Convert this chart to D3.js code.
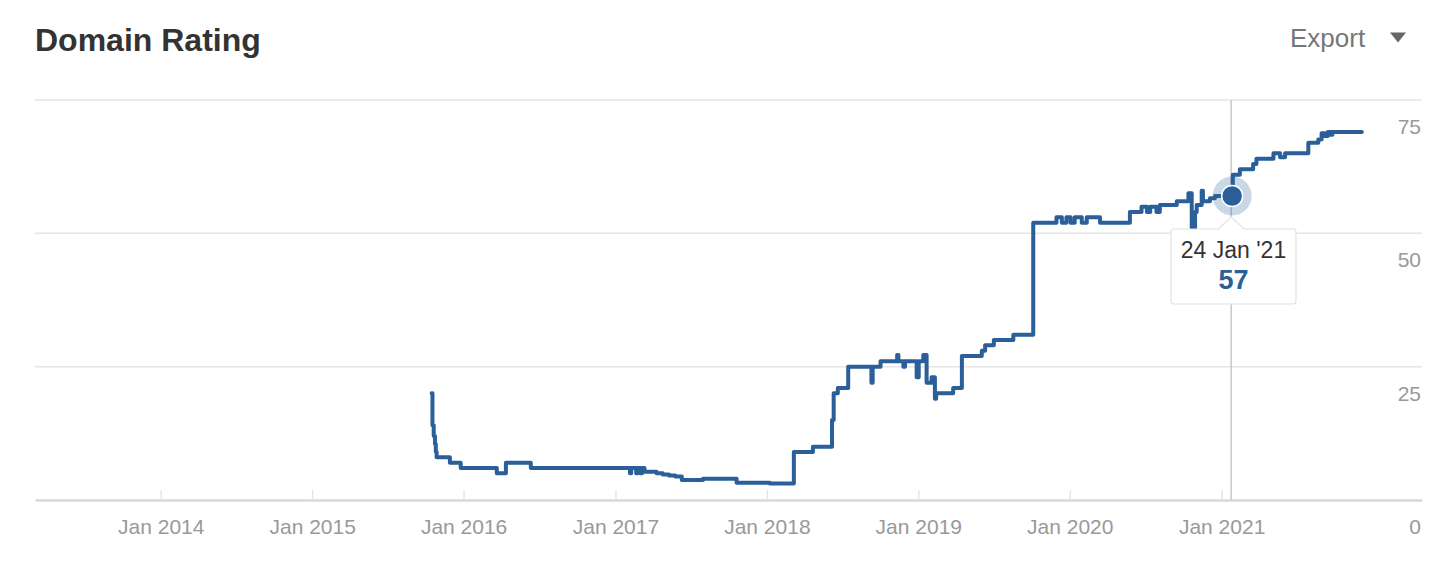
<!DOCTYPE html>
<html>
<head>
<meta charset="utf-8">
<script src="https://cdn.jsdelivr.net/npm/d3@7"></script>
<style>
  html, body { margin: 0; padding: 0; background: #fff; }
  svg { display: block; font-family: "Liberation Sans", Arial, Helvetica, sans-serif; }
</style>
</head>
<body>
<svg id="chart" width="1454" height="566"></svg>
<script>
// ---- data ----
const title = "Domain Rating";
const exportLabel = "Export";
const tickDates = ["2014-01-01","2015-01-01","2016-01-01","2017-01-01","2018-01-01","2019-01-01","2020-01-01","2021-01-01"];
const tickLabels = ["Jan 2014","Jan 2015","Jan 2016","Jan 2017","Jan 2018","Jan 2019","Jan 2020","Jan 2021"];
const yTicks = [0, 25, 50, 75];
const dates = [
  "2015-10-16","2015-10-18","2015-10-21","2015-10-24","2015-10-26","2015-10-28","2015-11-29","2015-12-25",
  "2016-03-21","2016-04-12","2016-06-11","2017-02-05","2017-02-08","2017-02-20","2017-02-24","2017-03-02",
  "2017-03-06","2017-03-12","2017-04-10","2017-04-25","2017-05-10","2017-05-25","2017-06-10","2017-07-31",
  "2017-10-20","2018-01-08","2018-03-07","2018-04-22","2018-06-07","2018-06-11","2018-06-21","2018-07-16",
  "2018-09-10","2018-09-13","2018-10-02","2018-11-11","2018-11-14","2018-11-26","2018-11-30","2018-12-28",
  "2019-01-02","2019-01-13","2019-01-21","2019-02-02","2019-02-10","2019-02-13","2019-03-26","2019-04-16",
  "2019-06-03","2019-06-11","2019-07-02","2019-08-18","2019-10-05","2019-11-30","2019-12-13","2019-12-24",
  "2020-01-03","2020-01-13","2020-01-30","2020-02-11","2020-03-14","2020-05-25","2020-06-22","2020-07-05",
  "2020-07-13","2020-07-28","2020-08-05","2020-09-15","2020-10-13","2020-10-21","2020-10-29","2020-11-02",
  "2020-11-14","2020-11-17","2020-12-04","2020-12-16","2021-01-28","2021-02-14","2021-03-18","2021-03-26",
  "2021-05-06","2021-05-22","2021-06-03","2021-07-29","2021-08-22","2021-08-30","2021-09-07","2021-09-14",
  "2021-09-22","2021-09-25","2021-12-05"
];
const values = [
  20,14,12,10.5,9,8,7,6,
  5,7,6,5,6,5,6,5,
  6,5.3,5,4.8,4.6,4.4,3.75,4,
  3.25,3.1,9,10,15,20,21,25,
  22,25,26,27.2,26,25,26,23,
  26,27.2,22,23,19,20,21,27,
  28,29,30,31,52,53,52,53,
  52,53,52,53,52,54,55,54,
  55,54,55.3,56,57.5,51,54,55.3,
  58,56,56.6,57,61,62,63,64,
  65,64.25,65,67,67.6,68.75,68.25,69,
  68.5,69,69
];
const tooltipDate = "2021-01-24";
const tooltipLabel = "24 Jan '21";
const tooltipValue = 57;

// ---- setup ----
const parse = d3.timeParse("%Y-%m-%d");
const data = dates.map((d, i) => ({ date: parse(d), value: values[i] }));

const svg = d3.select("#chart");
const plotL = 35, plotR = 1422, plotT = 100, plotB = 500;

const x = d3.scaleTime()
  .domain([parse("2013-03-04"), parse("2022-04-29")])
  .range([plotL, plotR]);
const y = d3.scaleLinear().domain([0, 75]).range([plotB, plotT]);

const lineColor = "#2a5f9a";

// title
svg.append("text").attr("x", 35).attr("y", 51)
  .attr("font-size", 32).attr("font-weight", "bold").attr("fill", "#333")
  .text(title);

// export
svg.append("text").attr("x", 1290).attr("y", 47)
  .attr("font-size", 26).attr("fill", "#777").text(exportLabel);
svg.append("path").attr("d", "M1390,32.5 L1406,32.5 L1398,42.5 Z").attr("fill", "#666");

// grid lines
svg.append("g").selectAll("line").data(yTicks.filter(v => v > 0)).join("line")
  .attr("x1", plotL).attr("x2", plotR)
  .attr("y1", d => y(d)).attr("y2", d => y(d))
  .attr("stroke", "#e6e6e6").attr("stroke-width", 1.5);

// y labels (right side, below gridlines)
svg.append("g").selectAll("text").data(yTicks).join("text")
  .attr("x", 1421).attr("y", d => y(d) + 34)
  .attr("text-anchor", "end").attr("font-size", 21).attr("fill", "#999")
  .text(d => d);

// x axis
const xAxis = d3.axisBottom(x)
  .tickValues(tickDates.map(parse))
  .tickFormat((d, i) => tickLabels[i])
  .tickSize(-10).tickSizeOuter(0).tickPadding(19);
const gx = svg.append("g").attr("transform", `translate(0,${plotB})`).call(xAxis);
gx.select(".domain").attr("stroke", "#d8d8d8").attr("stroke-width", 2.5);
gx.selectAll(".tick line").attr("stroke", "#e6e6e6").attr("stroke-width", 1.5);
gx.selectAll(".tick text").attr("font-size", 21).attr("fill", "#999")
  .attr("font-family", "\"Liberation Sans\", Arial, sans-serif");

// crosshair
const tx = x(parse(tooltipDate));
svg.append("line").attr("x1", tx).attr("x2", tx).attr("y1", plotT).attr("y2", plotB)
  .attr("stroke", "#c8c8c8").attr("stroke-width", 1.5);

// line
const line = d3.line().x(d => x(d.date)).y(d => y(d.value)).curve(d3.curveStepAfter);
svg.append("path").datum(data).attr("d", line)
  .attr("fill", "none").attr("stroke", lineColor).attr("stroke-width", 4)
  .attr("stroke-linejoin", "round").attr("stroke-linecap", "round");

// highlighted point
const ty = y(tooltipValue);
svg.append("circle").attr("cx", tx + 1).attr("cy", ty).attr("r", 19.5)
  .attr("fill", lineColor).attr("fill-opacity", 0.25);
svg.append("circle").attr("cx", tx + 1).attr("cy", ty).attr("r", 10.5)
  .attr("fill", lineColor).attr("stroke", "#fff").attr("stroke-width", 1.5);

// tooltip
const bx = 1171, bw = 125, byTop = 229, bh = 75, rr = 3;
const px = tx;
const tipPath = `M${bx + rr},${byTop} L${px - 13},${byTop} L${px},${byTop - 12} L${px + 13},${byTop}
  L${bx + bw - rr},${byTop} Q${bx + bw},${byTop} ${bx + bw},${byTop + rr}
  L${bx + bw},${byTop + bh - rr} Q${bx + bw},${byTop + bh} ${bx + bw - rr},${byTop + bh}
  L${bx + rr},${byTop + bh} Q${bx},${byTop + bh} ${bx},${byTop + bh - rr}
  L${bx},${byTop + rr} Q${bx},${byTop} ${bx + rr},${byTop} Z`;
svg.append("path").attr("d", tipPath).attr("fill", "#fff")
  .attr("stroke", "#e2e2e2").attr("stroke-width", 1.2);
svg.append("text").attr("x", bx + bw / 2).attr("y", 258)
  .attr("text-anchor", "middle").attr("font-size", 23).attr("fill", "#333")
  .text(tooltipLabel);
svg.append("text").attr("x", bx + bw / 2).attr("y", 289)
  .attr("text-anchor", "middle").attr("font-size", 27).attr("font-weight", "bold")
  .attr("fill", lineColor).text(tooltipValue);
</script>
</body>
</html>
